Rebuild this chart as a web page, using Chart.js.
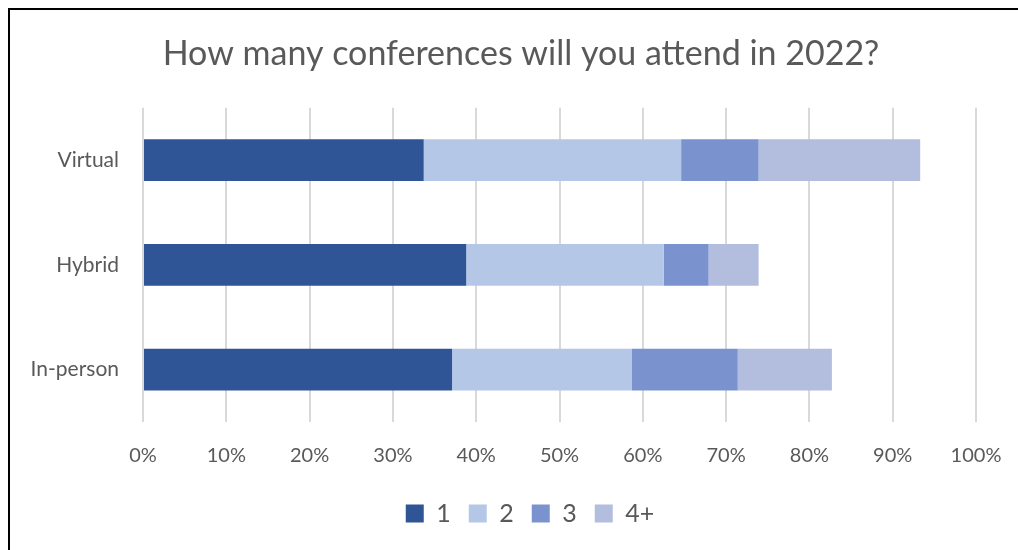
<!DOCTYPE html>
<html>
<head>
<meta charset="utf-8">
<script src="https://cdn.jsdelivr.net/npm/chart.js@4.4.1/dist/chart.umd.min.js"></script>
<style>
  html, body { margin: 0; padding: 0; background: #fff; overflow: hidden; }
  #frame {
    position: absolute; left: 8px; top: 8px;
    width: 1026px; height: 560px;
    border-left: 2px solid #000; border-top: 2px solid #000;
  }
  #wrap { position: absolute; left: 0; top: 0; width: 1026px; height: 526px; }
</style>
</head>
<body>
<div id="frame">
  <div id="wrap"><canvas id="confChart"></canvas></div>
</div>
<script>
// Categories and series (share of respondents, %)
const categories = ["Virtual", "Hybrid", "In-person"];
const seriesNames = ["1", "2", "3", "4+"];
const one = [33.7, 38.8, 37.1];
const two = [30.9, 23.7, 21.6];
const three = [9.3, 5.4, 12.7];
const fourPlus = [19.4, 6.0, 11.3];
const xTicks = [0, 10, 20, 30, 40, 50, 60, 70, 80, 90, 100];

const colors = ["#2F5597", "#B4C7E7", "#7A92CE", "#B3BDDD"];
const textColor = "#595959";
const fontFamily = "Lato, 'Noto Sans', sans-serif";

const ctx = document.getElementById("confChart").getContext("2d");

// Excel centres title and legend on the whole frame, nudge them right
const centerBoxes = {
  id: "centerBoxes",
  afterLayout(chart) {
    if (chart.titleBlock) chart.titleBlock.left += 56;
    if (chart.legend) {
      chart.legend.left += 74;
      chart.legend.width = chart.legend.right - chart.legend.left;
    }
  }
};

new Chart(ctx, {
  type: "bar",
  data: {
    labels: categories,
    datasets: [one, two, three, fourPlus].map((vals, i) => ({
      label: seriesNames[i],
      data: vals,
      backgroundColor: colors[i],
      borderWidth: 0,
      categoryPercentage: 1,
      barPercentage: 0.4
    }))
  },
  options: {
    indexAxis: "y",
    responsive: true,
    maintainAspectRatio: false,
    animation: false,
    layout: { padding: { left: 0, right: 60, top: 0, bottom: 0 } },
    plugins: {
      title: {
        display: true,
        text: "How many conferences will you attend in 2022?",
        color: textColor,
        font: { family: fontFamily, size: 34, weight: "normal" },
        padding: { top: 24, bottom: 33 }
      },
      legend: {
        position: "bottom",
        labels: {
          color: textColor,
          font: { family: fontFamily, size: 25 },
          boxWidth: 18,
          boxHeight: 18,
          padding: 18
        }
      },
      tooltip: { enabled: false }
    },
    scales: {
      x: {
        stacked: true,
        min: 0,
        max: 100,
        afterBuildTicks: (scale) => {
          scale.ticks = xTicks.map((v) => ({ value: v }));
        },
        ticks: {
          color: textColor,
          font: { family: fontFamily, size: 20 },
          padding: 22,
          callback: (v) => v + "%"
        },
        grid: { color: "#D9D9D9", lineWidth: 2, drawTicks: false },
        border: { display: false },
        afterFit: (scale) => {
          // keep plot bottom where the reference puts it
          const legendH = scale.chart.legend ? scale.chart.legend.height : 0;
          scale.height = scale.chart.height - 412 - legendH;
        }
      },
      y: {
        stacked: true,
        ticks: {
          color: textColor,
          font: { family: fontFamily, size: 21 },
          padding: 16
        },
        grid: { display: false },
        border: { display: false },
        afterFit: (scale) => { scale.width = 133; }
      }
    }
  },
  plugins: [centerBoxes]
});
</script>
</body>
</html>
